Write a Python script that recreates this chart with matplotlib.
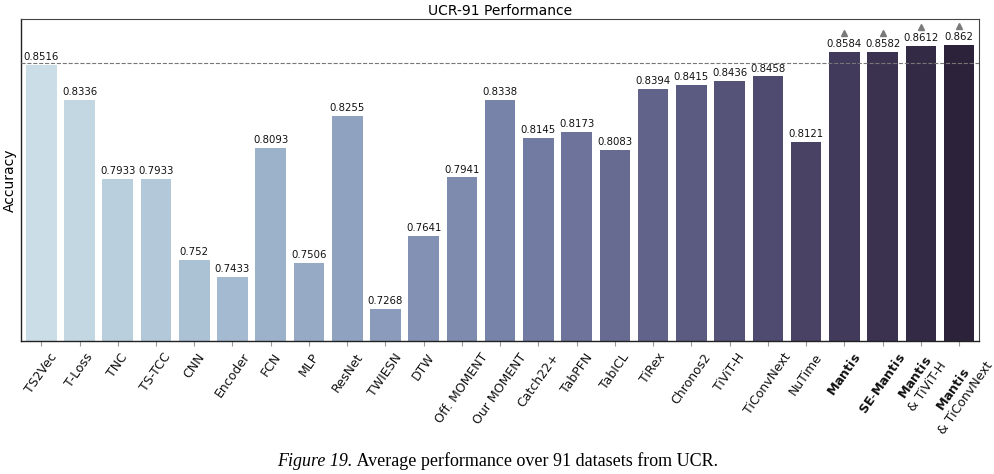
import matplotlib
matplotlib.use("Agg")
import matplotlib.pyplot as plt
import matplotlib.transforms as mtransforms
import seaborn as sns
import numpy as np

models = ["TS2Vec", "T-Loss", "TNC", "TS-TCC", "CNN", "Encoder", "FCN", "MLP",
          "ResNet", "TWIESN", "DTW", "Off. MOMENT", "Our MOMENT", "Catch22+",
          "TabPFN", "TabICL", "TiRex", "Chronos2", "TiViT-H", "TiConvNext",
          "NuTime", "Mantis", "SE-Mantis", "Mantis & TiViT-H", "Mantis & TiConvNext"]
accuracy = [0.8516, 0.8336, 0.7933, 0.7933, 0.752, 0.7433, 0.8093, 0.7506,
            0.8255, 0.7268, 0.7641, 0.7941, 0.8338, 0.8145, 0.8173, 0.8083,
            0.8394, 0.8415, 0.8436, 0.8458, 0.8121, 0.8584, 0.8582, 0.8612, 0.862]
tick_labels = ["TS2Vec", "T-Loss", "TNC", "TS-TCC", "CNN", "Encoder", "FCN", "MLP",
               "ResNet", "TWIESN", "DTW", "Off. MOMENT", "Our MOMENT", "Catch22+",
               "TabPFN", "TabICL", "TiRex", "Chronos2", "TiViT-H", "TiConvNext",
               "NuTime", r"$\mathbf{Mantis}$", r"$\mathbf{SE\text{-}Mantis}$",
               r"$\mathbf{Mantis}$" + "\n& TiViT-H",
               r"$\mathbf{Mantis}$" + "\n& TiConvNext"]
highlight = ["Mantis", "SE-Mantis", "Mantis & TiViT-H", "Mantis & TiConvNext"]
reference_line = 0.8528

plt.rcParams['mathtext.fontset'] = 'dejavusans'

fig = plt.figure(figsize=(9.95, 4.74), dpi=100)
ax = fig.add_axes([21/995, 1-341/474, 958/995, 322/474])

colors = [sns.desaturate(c, 0.75) for c in sns.color_palette("ch:s=.25,rot=-.25", len(models))]
x = np.arange(len(models))
bars = ax.bar(x, accuracy, width=0.8, color=colors, zorder=2)
ax.bar_label(bars, labels=[f"{v:g}" for v in accuracy], padding=2, fontsize=7.3, color="#111111")

ax.axhline(reference_line, color="#777777", ls="--", lw=0.8, zorder=3)

off = mtransforms.offset_copy(ax.transData, fig=fig, x=0, y=13.5, units="points")
for i, m in enumerate(models):
    if m in highlight:
        ax.plot([x[i]], [accuracy[i]], marker="^", ms=4.5, color="#7a7a7a",
                transform=off, clip_on=False, zorder=4)

ax.set_xlim(-0.53, 24.52)
ax.set_ylim(0.7105, 0.8751)
ax.set_yticks([])
ax.set_xticks(x)
ax.set_xticklabels(tick_labels, rotation=55, ha="center", fontsize=9, color="#111111",
                   linespacing=1.1)
ax.tick_params(axis="x", length=3.5, color="#999999", width=0.8)
ax.set_ylabel("Accuracy", fontsize=10, labelpad=3)
ax.set_title("UCR-91 Performance", fontsize=10, pad=3)
for s in ["left", "bottom"]:
    ax.spines[s].set_color("#222222")
    ax.spines[s].set_linewidth(1.0)
for s in ["top", "right"]:
    ax.spines[s].set_color("#444444")
    ax.spines[s].set_linewidth(0.8)

# caption
renderer = fig.canvas.get_renderer()
cap_y = 1 - 461/474
t1 = fig.text(0, cap_y, "Figure 19.", fontsize=13, family="Liberation Serif",
              style="italic", va="center")
t2 = fig.text(0, cap_y, " Average performance over 91 datasets from UCR.", fontsize=13,
              family="Liberation Serif", va="center")
w1 = t1.get_window_extent(renderer).width
w2 = t2.get_window_extent(renderer).width
start = (995 - (w1 + w2)) / 2
t1.set_x(start / 995)
t2.set_x((start + w1) / 995)

fig.savefig("out.png", dpi=100)
